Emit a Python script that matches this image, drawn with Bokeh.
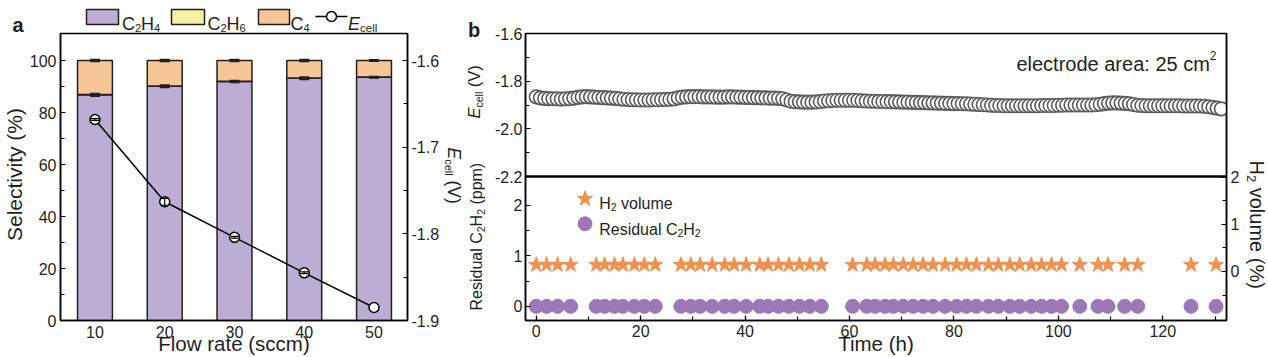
import math
from bokeh.plotting import figure
from bokeh.models import (Range1d, LinearAxis, FixedTicker, SingleIntervalTicker, Label, Span,
                          Whisker, TeeHead, ColumnDataSource, CustomJSTickFormatter)
from bokeh.core.properties import value
from bokeh.layouts import row, column
from bokeh.embed import file_html
from bokeh.resources import INLINE

# ---------------- data: panel a ----------------
flow_rate = [10, 20, 30, 40, 50]
sel_c2h4 = [86.8, 90.1, 91.9, 93.2, 93.6]
sel_c2h6 = [0.1, 0.1, 0.1, 0.1, 0.1]
sel_c4 = [13.1, 9.8, 8.0, 6.7, 6.3]
sel_c2h4_err = [0.3, 0.3, 0.2, 0.3, 0.1]
sel_total_err = [0.2, 0.2, 0.2, 0.2, 0.1]
ecell_flow = [-1.668, -1.763, -1.804, -1.845, -1.885]
ecell_flow_err = [0.001, 0.004, 0.001, 0.001, float("nan")]
sel_ticks = [0, 20, 40, 60, 80, 100]
sel_minor = [10, 30, 50, 70, 90]
ecell_a_ticks = [-1.9, -1.8, -1.7, -1.6]
ecell_a_minor = [-1.85, -1.75, -1.65]

# ---------------- data: panel b ----------------
time_ecell = [0.0, 0.8, 1.6, 2.4, 3.2, 4.0, 4.8, 5.6, 6.4, 7.2, 8.0, 8.8, 9.6, 10.4, 11.2, 12.0,
              12.8, 13.6, 14.4, 15.2, 16.0, 16.8, 17.6, 18.4, 19.2, 20.0, 20.8, 21.6, 22.4, 23.2,
              24.0, 24.8, 25.6, 26.4, 27.2, 28.0, 28.8, 29.6, 30.4, 31.2, 32.0, 32.8, 33.6, 34.4,
              35.2, 36.0, 36.8, 37.6, 38.4, 39.2, 40.0, 40.8, 41.6, 42.4, 43.2, 44.0, 44.8, 45.6,
              46.4, 47.2, 48.0, 48.8, 49.6, 50.4, 51.2, 52.0, 52.8, 53.6, 54.4, 55.2, 56.0, 56.8,
              57.6, 58.4, 59.2, 60.0, 60.8, 61.6, 62.4, 63.2, 64.0, 64.8, 65.6, 66.4, 67.2, 68.0,
              68.8, 69.6, 70.4, 71.2, 72.0, 72.8, 73.6, 74.4, 75.2, 76.0, 76.8, 77.6, 78.4, 79.2,
              80.0, 80.8, 81.6, 82.4, 83.2, 84.0, 84.8, 85.6, 86.4, 87.2, 88.0, 88.8, 89.6, 90.4,
              91.2, 92.0, 92.8, 93.6, 94.4, 95.2, 96.0, 96.8, 97.6, 98.4, 99.2, 100.0, 100.8,
              101.6, 102.4, 103.2, 104.0, 104.8, 105.6, 106.4, 107.2, 108.0, 108.8, 109.6, 110.4,
              111.2, 112.0, 112.8, 113.6, 114.4, 115.2, 116.0, 116.8, 117.6, 118.4, 119.2, 120.0,
              120.8, 121.6, 122.4, 123.2, 124.0, 124.8, 125.6, 126.4, 127.2, 128.0, 128.8, 129.6,
              130.4, 131.2]
ecell_time = [-1.866, -1.870, -1.872, -1.873, -1.874, -1.874, -1.875, -1.874, -1.873, -1.871,
              -1.868, -1.866, -1.865, -1.866, -1.867, -1.868, -1.869, -1.870, -1.871, -1.872,
              -1.874, -1.876, -1.877, -1.878, -1.878, -1.879, -1.879, -1.879, -1.878, -1.878,
              -1.877, -1.877, -1.876, -1.874, -1.870, -1.867, -1.866, -1.865, -1.865, -1.865,
              -1.866, -1.866, -1.866, -1.867, -1.867, -1.867, -1.866, -1.866, -1.867, -1.867,
              -1.868, -1.868, -1.869, -1.869, -1.870, -1.870, -1.871, -1.871, -1.872, -1.874,
              -1.879, -1.884, -1.886, -1.887, -1.888, -1.888, -1.888, -1.887, -1.885, -1.883,
              -1.882, -1.881, -1.880, -1.880, -1.880, -1.880, -1.880, -1.881, -1.882, -1.883,
              -1.884, -1.884, -1.885, -1.885, -1.886, -1.886, -1.887, -1.887, -1.888, -1.888,
              -1.889, -1.889, -1.890, -1.890, -1.891, -1.891, -1.892, -1.892, -1.893, -1.893,
              -1.894, -1.894, -1.895, -1.895, -1.896, -1.897, -1.898, -1.899, -1.900, -1.901,
              -1.902, -1.902, -1.903, -1.903, -1.903, -1.903, -1.903, -1.903, -1.903, -1.903,
              -1.903, -1.902, -1.902, -1.902, -1.902, -1.901, -1.901, -1.900, -1.900, -1.900,
              -1.900, -1.900, -1.900, -1.900, -1.899, -1.897, -1.894, -1.892, -1.891, -1.891,
              -1.892, -1.893, -1.895, -1.898, -1.901, -1.902, -1.903, -1.903, -1.903, -1.903,
              -1.903, -1.903, -1.903, -1.903, -1.903, -1.904, -1.904, -1.904, -1.904, -1.904,
              -1.905, -1.907, -1.910, -1.913, -1.916]
time_gas = [0.0, 2.0, 4.1, 6.6, 11.5, 13.1, 15.0, 16.6, 18.8, 20.7, 22.8, 27.7, 29.6, 31.4,
            33.7, 36.1, 37.9, 40.2, 42.8, 44.4, 46.4, 48.4, 50.4, 52.4, 54.6, 60.6, 63.3, 64.9,
            66.8, 68.4, 70.3, 72.2, 74.1, 76.0, 78.3, 80.5, 82.4, 84.3, 86.6, 88.5, 90.7, 92.6,
            94.8, 96.8, 98.7, 100.6, 104.1, 107.6, 109.5, 112.7, 115.2, 125.4, 130.2]
h2_volume = [0.14] * len(time_gas)
residual_c2h2 = [0.0] * len(time_gas)
e_ticks_b = [-2.2, -2.0, -1.8, -1.6]
e_minor_b = [-2.1, -1.9, -1.7]
ppm_ticks = [0, 1, 2]
ppm_minor = [0.5, 1.5]
h2_ticks = [0, 1, 2]
h2_minor = [-0.5, 0.5, 1.5]

# ---------------- style ----------------
FONT = "Liberation Sans"
TXT = "#231f20"
C_C2H4 = "#bcadd4"
C_C2H6 = "#f4f2a2"
C_C4 = "#f6c697"
C_STAR = "#f2914e"
C_DOT = "#9c79b6"
HTOT = 357
MID = 0.35  # em distance from the baseline to the text's middle

AW = {'C': 722, 'E': 667, 'H': 722, 'R': 722, 'S': 667, 'T': 611, 'V': 667, 'F': 611,
      'a': 556, 'b': 556, 'c': 500, 'd': 556, 'e': 556, 'h': 556, 'i': 222, 'l': 222, 'm': 833,
      'o': 556, 'p': 556, 'r': 333, 's': 500, 't': 278, 'u': 556, 'v': 500, 'w': 722, 'y': 500,
      ' ': 278, '(': 333, ')': 333, '%': 889, ':': 278, '.': 278, '-': 333}


def tw(s, size):
    return sum(AW.get(c, 556) for c in s) * size / 1000.0


def layout_runs(runs, gx, gy, angle, align):
    """Place runs along a baseline; rotated runs are anchored at their middle."""
    total = sum(tw(t, s) for t, s, _, _ in runs)
    if angle == 0:
        adv, down = (1, 0), (0, 1)
    elif angle > 0:
        adv, down = (0, -1), (1, 0)
    else:
        adv, down = (0, 1), (-1, 0)
    pos = {"left": 0, "center": -total / 2, "right": -total}[align]
    out = []
    for t, s, sh, st in runs:
        if t.strip():
            off = sh if angle == 0 else sh - MID * s
            out.append((t, s, st, gx + adv[0] * pos + down[0] * off,
                        gy + adv[1] * pos + down[1] * off))
        pos += tw(t, s)
    return out


def label_runs(fig, conv, runs, gx, gy, align="left", color=TXT):
    """Horizontal text inside a plot frame, as Label annotations in screen units."""
    for t, s, st, x, y in layout_runs(runs, gx, gy, 0, align):
        lx, ly = conv(x, y)
        fig.add_layout(Label(x=lx, y=ly, x_units="screen", y_units="screen", text=t,
                             text_font=FONT, text_font_size=f"{s}px", text_font_style=st,
                             text_color=color, text_align="left", text_baseline="alphabetic"))


def glyph_runs(fig, runs, gx, gy, angle=0, align="left", color=TXT):
    """Text in a strip figure whose data units are page pixels."""
    base = "alphabetic" if angle == 0 else "middle"
    for t, s, st, x, y in layout_runs(runs, gx, gy, angle, align):
        fig.text(x=[x], y=[HTOT - y], text=[t], angle=math.radians(angle),
                 text_font=value(FONT), text_font_size=value(f"{s}px"),
                 text_font_style=value(st), text_color=color,
                 text_align="left", text_baseline=base)


def strip(x0, x1, y0, y1):
    f = figure(width=x1 - x0, height=y1 - y0, x_range=Range1d(x0, x1),
               y_range=Range1d(HTOT - y1, HTOT - y0), output_backend="svg",
               toolbar_location=None, x_axis_location=None, y_axis_location=None,
               min_border_left=0, min_border_right=0, min_border_top=0, min_border_bottom=0,
               frame_align=False)
    f.outline_line_color = None
    f.grid.visible = False
    return f


def style_axis(ax, standoff=4):
    ax.axis_line_width = 1.5
    ax.axis_line_color = "black"
    ax.major_tick_in = 5
    ax.major_tick_out = 0
    ax.minor_tick_in = 4
    ax.minor_tick_out = 0
    ax.major_tick_line_width = 1.2
    ax.minor_tick_line_width = 1.2
    ax.major_tick_line_color = "black"
    ax.minor_tick_line_color = "black"
    ax.major_label_text_font = FONT
    ax.major_label_text_font_size = "16px"
    ax.major_label_text_color = TXT
    ax.major_label_standoff = standoff
    ax.axis_label_text_font = FONT
    ax.axis_label_text_font_style = "normal"
    ax.axis_label_text_color = TXT


hyphen_fmt = CustomJSTickFormatter(code="return tick.toFixed(1);")

# ================= strip left of panel a (page x 0-26) =================
s_al = strip(0, 26, 0, HTOT)
glyph_runs(s_al, [("a", 20, 0, "bold")], 12, 24)
glyph_runs(s_al, [("Selectivity (%)", 21, 0, "normal")], 21.5, 174, angle=90, align="center")

# ================= legend strip for panel a (page x 26-442, y 0-32) =================
leg = strip(26, 442, 0, 32)
leg.quad(left=[86, 171, 258], right=[118, 204, 289], top=[HTOT - 9] * 3, bottom=[HTOT - 24] * 3,
         fill_color=[C_C2H4, C_C2H6, C_C4], line_color=TXT, line_width=1.5)
leg.line(x=[315, 347], y=[HTOT - 16, HTOT - 16], line_color="black", line_width=1.5)
leg.scatter(x=[331], y=[HTOT - 16], size=10, fill_color="white", line_color="black",
            line_width=1.5)
glyph_runs(leg, [("C", 18, 0, "normal"), ("2", 11, 4, "normal"),
                 ("H", 18, 0, "normal"), ("4", 11, 4, "normal")], 121.5, 23)
glyph_runs(leg, [("C", 18, 0, "normal"), ("2", 11, 4, "normal"),
                 ("H", 18, 0, "normal"), ("6", 11, 4, "normal")], 207, 23)
glyph_runs(leg, [("C", 18, 0, "normal"), ("4", 11, 4, "normal")], 290, 23)
glyph_runs(leg, [("E", 18, 0, "italic"), ("cell", 11.5, 4, "normal")], 347.5, 23)

# ================= panel a (page x 26-442, y 32-357) =================
pa = figure(width=416, height=325, x_range=Range1d(5.06, 54.8), y_range=Range1d(0, 110.4),
            output_backend="svg", toolbar_location=None, min_border_left=31,
            min_border_right=33, min_border_top=1, min_border_bottom=37, frame_align=False)
pa.grid.visible = False
pa.outline_line_color = "black"
pa.outline_line_width = 1.5
pa.extra_y_ranges = {"ecell": Range1d(-1.9, -1.5688)}
ax_ba = pa.xaxis[0]
ax_la = pa.yaxis[0]
ax_ba.ticker = FixedTicker(ticks=flow_rate)
ax_la.ticker = FixedTicker(ticks=sel_ticks, minor_ticks=sel_minor)
ax_ra = LinearAxis(y_range_name="ecell", formatter=hyphen_fmt,
                   ticker=FixedTicker(ticks=ecell_a_ticks, minor_ticks=ecell_a_minor))
pa.add_layout(ax_ra, "right")
for ax in [ax_ba, ax_la, ax_ra]:
    style_axis(ax)
ax_ba.major_tick_line_color = None
ax_ba.minor_tick_line_color = None
ax_ba.major_label_standoff = 5
ax_ba.axis_label = "Flow rate (sccm)"
ax_ba.axis_label_text_font_size = "20.5px"
ax_ba.axis_label_standoff = -9

c2h6_top = [a + b for a, b in zip(sel_c2h4, sel_c2h6)]
c4_top = [a + b for a, b in zip(c2h6_top, sel_c4)]
pa.vbar(x=flow_rate, width=5, bottom=0, top=sel_c2h4, fill_color=C_C2H4,
        line_color=TXT, line_width=1.5)
pa.vbar(x=flow_rate, width=5, bottom=sel_c2h4, top=c2h6_top, fill_color=C_C2H6,
        line_color=TXT, line_width=1.5)
pa.vbar(x=flow_rate, width=5, bottom=c2h6_top, top=c4_top, fill_color=C_C4,
        line_color=TXT, line_width=1.5)
err_src = ColumnDataSource(dict(
    x=flow_rate + flow_rate,
    up=[v + e for v, e in zip(sel_c2h4, sel_c2h4_err)] + [v + e for v, e in zip(c4_top, sel_total_err)],
    lo=[v - e for v, e in zip(sel_c2h4, sel_c2h4_err)] + [v - e for v, e in zip(c4_top, sel_total_err)]))
pa.add_layout(Whisker(source=err_src, base="x", upper="up", lower="lo", dimension="height",
                      line_color=TXT, line_width=2, level="overlay",
                      upper_head=TeeHead(size=10, line_width=2.5, line_color=TXT),
                      lower_head=TeeHead(size=10, line_width=2.5, line_color=TXT)))

pa.line(x=flow_rate, y=ecell_flow, y_range_name="ecell", line_color="black", line_width=1.5)
pa.scatter(x=flow_rate, y=ecell_flow, y_range_name="ecell", size=10, fill_color="white",
           line_color="black", line_width=1.5)
e_src = ColumnDataSource(dict(x=flow_rate,
                              up=[v + e for v, e in zip(ecell_flow, ecell_flow_err)],
                              lo=[v - e for v, e in zip(ecell_flow, ecell_flow_err)]))
pa.add_layout(Whisker(source=e_src, base="x", upper="up", lower="lo", dimension="height",
                      y_range_name="ecell", line_color="black", line_width=1.2, level="overlay",
                      upper_head=TeeHead(size=8, line_width=1.2, line_color="black"),
                      lower_head=TeeHead(size=8, line_width=1.2, line_color="black")))

# ================= strip right of panel a (page x 442-464) =================
s_ar = strip(442, 464, 0, HTOT)
glyph_runs(s_ar, [("E", 17.5, 0, "italic"), ("cell", 11, 3, "normal"),
                  (" ", 17.5, 0, "normal"), ("(V)", 17.5, 0, "normal")],
           447.5, 147, angle=-90)

# ================= strip left of panel b (page x 464-491) =================
s_bl = strip(464, 491, 0, HTOT)
glyph_runs(s_bl, [("b", 20, 0, "bold")], 467.5, 29)
glyph_runs(s_bl, [("E", 16.5, 0, "italic"), ("cell", 10.5, 3, "normal"),
                  (" ", 16.5, 0, "normal"), ("(V)", 16.5, 0, "normal")],
           479.1, 118, angle=90)
glyph_runs(s_bl, [("Residual", 16, 0, "normal"), (" ", 16, 0, "normal"),
                  ("C", 16, 0, "normal"), ("2", 10.5, 3, "normal"),
                  ("H", 16, 0, "normal"), ("2", 10.5, 3, "normal"),
                  (" ", 16, 0, "normal"), ("(ppm)", 16, 0, "normal")],
           481.5, 310, angle=90)

# ================= panel b (page x 491-1243) =================
X_B = (-2.05, 132.2)
PPM_R = (-0.28, 5.40)
E_R = (-2.804, -1.6)
H2_R = (-1.04, 5.04)
pb = figure(width=752, height=357, x_range=Range1d(*X_B), y_range=Range1d(*PPM_R),
            output_backend="svg", toolbar_location=None, y_axis_location=None,
            min_border_left=32, min_border_right=17, min_border_top=33, min_border_bottom=37,
            frame_align=False)
pb.grid.visible = False
pb.outline_line_color = "black"
pb.outline_line_width = 1.5
pb.extra_y_ranges = {"ecell": Range1d(*E_R), "h2": Range1d(*H2_R)}
ax_bb = pb.xaxis[0]
ax_bb.ticker = SingleIntervalTicker(interval=20, num_minor_ticks=2)


def ppm_to_e(v):
    return E_R[0] + (v - PPM_R[0]) / (PPM_R[1] - PPM_R[0]) * (E_R[1] - E_R[0])


left_fmt = CustomJSTickFormatter(args=dict(e0=E_R[0], e1=E_R[1], p0=PPM_R[0], p1=PPM_R[1]), code="""
if (tick > -2.25) { return tick.toFixed(1); }
const v = p0 + (tick - e0) / (e1 - e0) * (p1 - p0);
return Math.round(v).toFixed(0);
""")
ax_lb = LinearAxis(y_range_name="ecell",
                   ticker=FixedTicker(ticks=e_ticks_b + [ppm_to_e(v) for v in ppm_ticks],
                                      minor_ticks=e_minor_b + [ppm_to_e(v) for v in ppm_minor]),
                   formatter=left_fmt)
pb.add_layout(ax_lb, "left")
ax_rb = LinearAxis(y_range_name="h2", ticker=FixedTicker(ticks=h2_ticks, minor_ticks=h2_minor))
pb.add_layout(ax_rb, "right")
for ax in [ax_bb, ax_lb, ax_rb]:
    style_axis(ax, 4)
ax_lb.major_label_standoff = 3
ax_bb.axis_label = "Time (h)"
ax_bb.axis_label_text_font_size = "20.5px"
ax_bb.axis_label_standoff = -8
pb.add_layout(Span(location=-2.2, dimension="width", y_range_name="ecell",
                   line_color="black", line_width=2.5))

pb.scatter(x=time_ecell, y=ecell_time, y_range_name="ecell", size=13.5, fill_color="white",
           line_color="#5a5a5a", line_width=1.6)
pb.scatter(x=time_gas, y=residual_c2h2, size=14, fill_color=C_DOT, line_color=C_DOT)
pb.scatter(x=time_gas, y=h2_volume, y_range_name="h2", marker="star", size=16,
           fill_color=C_STAR, line_color=C_STAR)


# legend keys (page positions converted to the panel's ranges)
def pb_xy(gx, gy):
    x = X_B[0] + (gx - 523) / 703 * (X_B[1] - X_B[0])
    y = PPM_R[0] + (320 - gy) / 287 * (PPM_R[1] - PPM_R[0])
    return x, y


kx1, ky1 = pb_xy(582.7, 198.3)
kx2, ky2 = pb_xy(582.7, 223.3)
pb.scatter(x=[kx1], y=[ky1], marker="star", size=16, fill_color=C_STAR, line_color=C_STAR)
pb.scatter(x=[kx2], y=[ky2], size=14, fill_color=C_DOT, line_color=C_DOT)

conv_b = lambda gx, gy: (gx - 523, 320 - gy)
label_runs(pb, conv_b, [("H", 16, 0, "normal"), ("2", 10.5, 3, "normal"),
                        (" ", 16, 0, "normal"), ("volume", 16, 0, "normal")], 596.7, 203)
label_runs(pb, conv_b, [("Residual", 16, 0, "normal"), (" ", 16, 0, "normal"),
                        ("C", 16, 0, "normal"), ("2", 10.5, 3, "normal"),
                        ("H", 16, 0, "normal"), ("2", 10.5, 3, "normal")], 596.7, 229)
label_runs(pb, conv_b, [("electrode area: 25 cm", 20, 0, "normal"),
                        ("2", 12, -8, "normal")], 1214, 63, align="right")

# ================= strip right of panel b (page x 1243-1268) =================
s_br = strip(1243, 1268, 0, HTOT)
glyph_runs(s_br, [("H", 20, 0, "normal"), ("2", 13, 3.5, "normal"),
                  (" ", 20, 0, "normal"), ("volume (%)", 20, 0, "normal")],
           1249.5, 160, angle=-90)

layout = row(s_al, column(leg, pa), s_ar, s_bl, pb, s_br)
open("out.html", "w").write(file_html(layout, INLINE))
